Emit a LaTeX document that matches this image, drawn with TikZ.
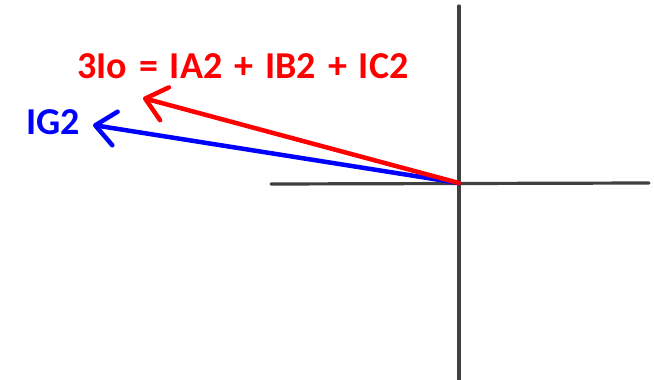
\documentclass[tikz,border=0pt]{standalone}
\usepackage{fontspec}
\setmainfont{Carlito}
\usetikzlibrary{arrows.meta}
\definecolor{axisgray}{HTML}{404040}
\tikzset{
  axisline/.style={draw=axisgray, line width=3.2pt, line cap=round},
  phasor/.style={line width=4.5pt, line cap=round, line join=round,
    -{Straight Barb[length=20pt, width=34pt, line width=4.5pt, round]}},
  lbl/.style={font=\bfseries\fontsize{38}{44}\selectfont, inner sep=0pt, anchor=base west}
}
\begin{document}
\begin{tikzpicture}[x=1pt, y=-1pt]
\useasboundingbox (0,0) rectangle (654,380);
\coordinate (O) at (459,183);
\coordinate (top) at (459,6);
\coordinate (bot) at (459,382);
\coordinate (left) at (271,184);
\coordinate (right) at (649,183);
\draw[axisline] (top) -- (bot);
\draw[axisline] (left) -- (right);
\coordinate (redtip) at (143,98);
\coordinate (bluetip) at (93,125);
\draw[phasor, blue] (O) -- (bluetip);
\draw[phasor, red] (O) -- (redtip);
\node[lbl, text=red] (eq) at (77,78) {\spaceskip=12pt plus 0pt minus 0pt 3Io = IA2 + IB2 + IC2};
\node[lbl, text=blue] (ig) at (26,134) {IG2};
\end{tikzpicture}
\end{document}
